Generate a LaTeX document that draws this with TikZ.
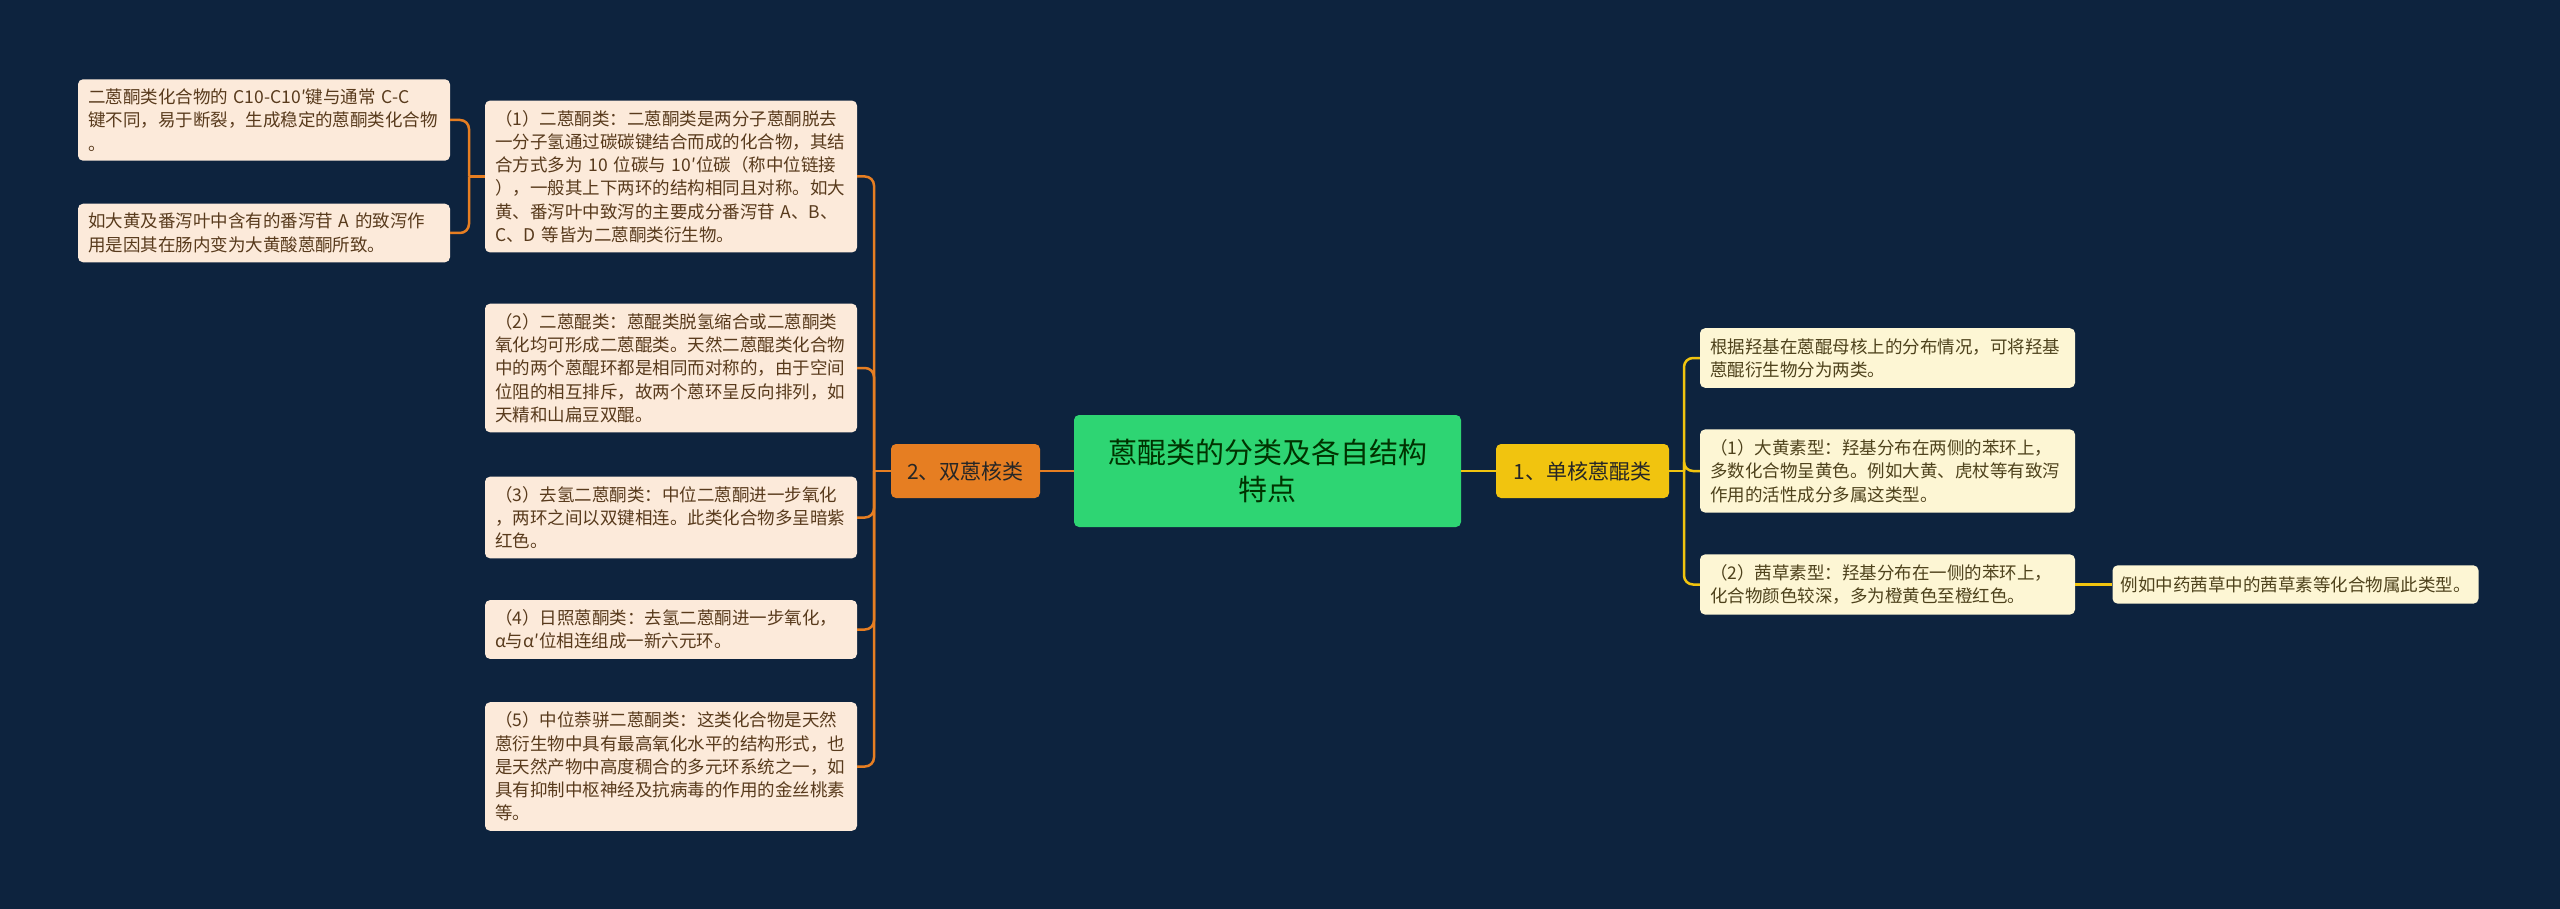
\documentclass[tikz,border=0pt]{standalone}
\usepackage{fontspec}
\setmainfont{Noto Sans CJK SC}
\usetikzlibrary{positioning}
\definecolor{bgblue}{RGB}{13,35,62}
\definecolor{rootgreen}{RGB}{46,213,115}
\definecolor{brorange}{RGB}{230,126,34}
\definecolor{bryellow}{RGB}{241,196,15}
\definecolor{peach}{RGB}{252,234,218}
\definecolor{cream}{RGB}{253,246,212}
\definecolor{browntxt}{RGB}{88,58,28}
\definecolor{olivetxt}{RGB}{78,66,28}
\tikzset{
  rootbox/.style={fill=rootgreen,rounded corners=5pt,minimum width=387pt,minimum height=112pt,align=center,text=black!80!green,font=\fontsize{29}{37.5}\selectfont},
  catbox/.style={rounded corners=5pt,minimum height=54pt,text=black!85,font=\fontsize{21}{26}\selectfont},
  leafL/.style={fill=peach,rounded corners=5pt,text width=352pt,inner xsep=10pt,inner ysep=9.5pt,align=left,text=browntxt,font=\fontsize{17.5}{23.3}\selectfont},
  leafR/.style={fill=cream,rounded corners=5pt,text width=355pt,inner xsep=10pt,inner ysep=10pt,align=left,text=olivetxt,font=\fontsize{17.5}{23.3}\selectfont},
  lineO/.style={draw=brorange,line width=2.5pt},
  lineY/.style={draw=bryellow,line width=2.5pt}
}
\begin{document}
\begin{tikzpicture}[x=1pt,y=-1pt]
  \fill[bgblue] (0,0) rectangle (2560,909);
  \useasboundingbox (0,0) rectangle (2560,909);
  % centre
  \node[rootbox] (root) at (1267.5,471) {蒽醌类的分类及各自结构\\特点};
  \node[catbox,fill=brorange,minimum width=149pt] (dbl) at (965.5,471) {2、双蒽核类};
  \node[catbox,fill=bryellow,minimum width=173pt] (sgl) at (1582.5,471) {1、单核蒽醌类};
  % left side
  \node[leafL] (m1) at (671,176.5) {（1）二蒽酮类：二蒽酮类是两分子蒽酮脱去\\一分子氢通过碳碳键结合而成的化合物，其结\\合方式多为 10 位碳与 10′位碳（称中位链接\\），一般其上下两环的结构相同且对称。如大\\黄、番泻叶中致泻的主要成分番泻苷 A、B、\\C、D 等皆为二蒽酮类衍生物。};
  \node[leafL] (m2) at (671,368) {（2）二蒽醌类：蒽醌类脱氢缩合或二蒽酮类\\氧化均可形成二蒽醌类。天然二蒽醌类化合物\\中的两个蒽醌环都是相同而对称的，由于空间\\位阻的相互排斥，故两个蒽环呈反向排列，如\\天精和山扁豆双醌。};
  \node[leafL] (m3) at (671,517.5) {（3）去氢二蒽酮类：中位二蒽酮进一步氧化\\，两环之间以双键相连。此类化合物多呈暗紫\\红色。};
  \node[leafL] (m4) at (671,629.5) {（4）日照蒽酮类：去氢二蒽酮进一步氧化，\\α与α′位相连组成一新六元环。};
  \node[leafL] (m5) at (671,766.5) {（5）中位萘骈二蒽酮类：这类化合物是天然\\蒽衍生物中具有最高氧化水平的结构形式，也\\是天然产物中高度稠合的多元环系统之一，如\\具有抑制中枢神经及抗病毒的作用的金丝桃素\\等。};
  \node[leafL] (f1) at (264,120) {二蒽酮类化合物的 C10-C10′键与通常 C-C\\键不同，易于断裂，生成稳定的蒽酮类化合物\\。};
  \node[leafL] (f2) at (264,233) {如大黄及番泻叶中含有的番泻苷 A 的致泻作\\用是因其在肠内变为大黄酸蒽酮所致。};
  % right side
  \node[leafR] (r1) at (1887.5,358) {根据羟基在蒽醌母核上的分布情况，可将羟基\\蒽醌衍生物分为两类。};
  \node[leafR] (r2) at (1887.5,471) {（1）大黄素型：羟基分布在两侧的苯环上，\\多数化合物呈黄色。例如大黄、虎杖等有致泻\\作用的活性成分多属这类型。};
  \node[leafR] (r3) at (1887.5,584.5) {（2）茜草素型：羟基分布在一侧的苯环上，\\化合物颜色较深，多为橙黄色至橙红色。};
  \node[fill=cream,rounded corners=5pt,inner xsep=8pt,inner ysep=11pt,text=olivetxt,font=\fontsize{17.5}{23.3}\selectfont] (r4) at (2295.5,584.5) {例如中药茜草中的茜草素等化合物属此类型。};
  % connectors
  \coordinate (tL) at (874,471); \coordinate (tF) at (469,176.5); \coordinate (tR) at (1684,471);
  \draw[lineO] (root.west) -- (dbl.east);
  \draw[lineO] (dbl.west) -- (tL);
  \foreach \n in {m1,m2,m3,m4,m5} \draw[lineO,rounded corners=9pt] (tL) |- (\n.east);
  \draw[lineO] (m1.west) -- (tF);
  \foreach \n in {f1,f2} \draw[lineO,rounded corners=9pt] (tF) |- (\n.east);
  \draw[lineY] (root.east) -- (sgl.west); \draw[lineY] (sgl.east) -- (tR);
  \foreach \n in {r1,r2,r3} \draw[lineY,rounded corners=9pt] (tR) |- (\n.west);
  \draw[lineY] (r3.east) -- (r4.west);
\end{tikzpicture}
\end{document}
